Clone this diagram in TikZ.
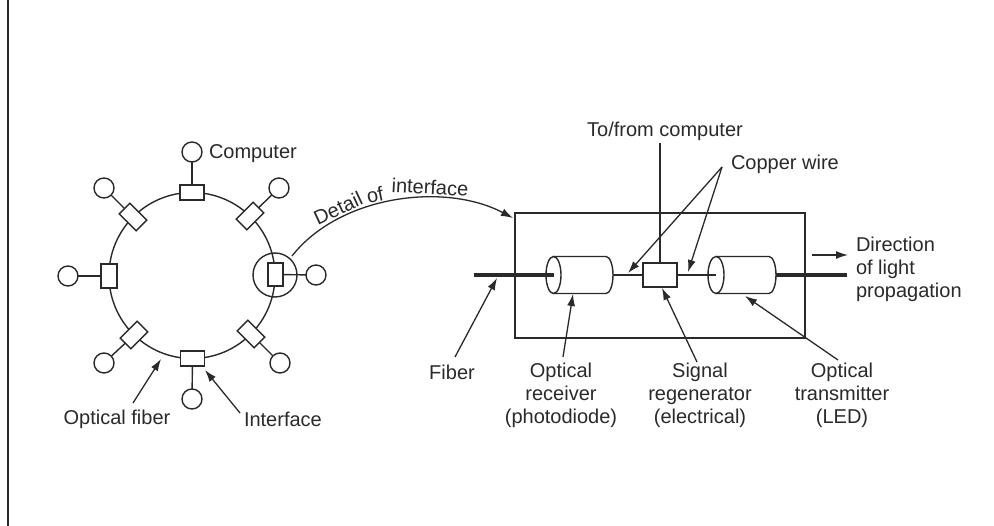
\documentclass[tikz,border=0pt]{standalone}
\usepackage{fontspec}
\setmainfont{Liberation Sans}
\usetikzlibrary{arrows.meta}
\definecolor{ink}{HTML}{2A2A2A}
\tikzset{
  lbl/.style={inner sep=0pt,outer sep=0pt,align=center,text=ink,font=\fontsize{20}{23}\selectfont},
  wirebase/.style={draw=ink,line width=1.4pt},
  ifbox/.style={draw=ink,fill=white,line width=1.4pt,inner sep=0pt,outer sep=0pt,minimum width=24pt,minimum height=15pt},
  comp/.style={circle,draw=ink,fill=white,line width=1.4pt,inner sep=0pt,outer sep=0pt,minimum size=20pt},
  ptr/.style={draw=ink,line width=1.3pt,-{Latex[length=12pt,width=8pt]}},
  thickfib/.style={draw=ink,line width=4pt},
  cu/.style={draw=ink,line width=2pt},
}
\begin{document}
\begin{tikzpicture}[x=1pt,y=-1pt]
\useasboundingbox (0,0) rectangle (994,526);
\fill[white] (0,0) rectangle (994,526);
\draw[ink,line width=2pt] (8,0) -- (8,526);
% ring
\node[circle,draw=ink,line width=1.4pt,minimum size=166pt,inner sep=0pt,outer sep=0pt] (ring) at (192,275.5) {};
% computers
\node[comp] (c1) at (192,152) {};
\node[comp] (c2) at (279,188) {};
\node[comp] (c3) at (316,275) {};
\node[comp] (c4) at (280,363) {};
\node[comp] (c5) at (192,399) {};
\node[comp] (c6) at (104,363) {};
\node[comp] (c7) at (68,276) {};
\node[comp] (c8) at (104,188) {};
% interfaces
\node[ifbox] (i1) at (192,192.5) {};
\node[ifbox,rotate=45] (i2) at (250,216) {};
\node[ifbox,minimum width=15pt,minimum height=23pt] (i3) at (275.5,274.5) {};
\node[ifbox,rotate=-45] (i4) at (251,334) {};
\node[ifbox] (i5) at (192.5,358.5) {};
\node[ifbox,rotate=45] (i6) at (134,335) {};
\node[ifbox,minimum width=16pt,minimum height=24pt] (i7) at (109,276) {};
\node[ifbox,rotate=-45] (i8) at (133,217) {};
\foreach \n in {1,...,8}{\draw[wirebase] (c\n) -- (i\n);}
% detail circle
\node[circle,draw=ink,line width=1.4pt,minimum size=44pt,inner sep=0pt,outer sep=0pt] (zoomc) at (275,275) {};
% ring labels
\node[lbl,anchor=west] (tcomp) at (209,154) {Computer};
\node[lbl] (tfib) at (117,419) {Optical fiber};
\node[lbl,anchor=west] (tif) at (244,419) {Interface};
\coordinate (afib) at (161,359);
\coordinate (sfib) at (133,403);
\coordinate (aif) at (205,370);
\coordinate (sif) at (240,413);
\draw[ptr] (sfib) -- (afib);
\draw[ptr] (sif) -- (aif);
% detail box
\node[draw=ink,line width=1.4pt,minimum width=290pt,minimum height=125pt,inner sep=0pt,outer sep=0pt] (detail) at (660,275.5) {};
% detail curve
\coordinate (dstart) at (292,256);
\coordinate (dend) at (513,218);
\draw[ptr] (dstart) .. controls (340,195) and (445,182) .. (dend);
\node[lbl,rotate=25] (td1) at (338,208) {Detail};
\node[lbl,rotate=12] (td2) at (375,195) {of};
\node[lbl,rotate=-3] (td3) at (430,187) {interface};
% fibre and wires
\coordinate (rxc) at (553.5,275);
\coordinate (rxr) at (613,275);
\coordinate (txc) at (716,275);
\coordinate (txr) at (776,275);
\coordinate (fl) at (474,275);
\coordinate (fr) at (847,275);
\coordinate (topw) at (660,143);
\node[draw=ink,fill=white,line width=1.4pt,minimum width=34pt,minimum height=24pt,inner sep=0pt,outer sep=0pt] (regen) at (660,275) {};
\draw[cu] (topw) -- (regen.north);
\draw[cu] (rxr) -- (regen.west);
% cylinders
\draw[ink,line width=1.4pt,fill=white] (553.5,256.5) -- (606,256.5) arc[start angle=-90,end angle=90,x radius=7,y radius=18.5] -- (553.5,293.5);
\draw[ink,line width=1.4pt,fill=white] (rxc) ellipse[x radius=7.5,y radius=18.5];
\draw[thickfib] (fl) -- (rxc);
\draw[ink,line width=1.4pt,fill=white] (716,256.5) -- (769,256.5) arc[start angle=-90,end angle=90,x radius=7,y radius=18.5] -- (716,293.5);
\draw[ink,line width=1.4pt,fill=white] (txc) ellipse[x radius=8,y radius=18.5];
\draw[cu] (regen.east) -- (txc);
\draw[thickfib] (txr) -- (fr);
% right labels
\coordinate (dirs) at (812,255);
\coordinate (dire) at (848,255);
\draw[ptr] (dirs) -- (dire);
\node[lbl,align=left,anchor=west] (tdir) at (856,269) {Direction\\of light\\propagation};
\node[lbl] (tto) at (665,131) {To/from computer};
\node[lbl,anchor=west] (tcu) at (731,164) {Copper wire};
\coordinate (scu) at (722,167);
\coordinate (acu1) at (628,273);
\coordinate (acu2) at (688,272);
\draw[ptr] (scu) -- (acu1);
\draw[ptr] (scu) -- (acu2);
\node[lbl] (tfb) at (452,372) {Fiber};
\node[lbl] (trx) at (561,395) {Optical\\receiver\\(photodiode)};
\node[lbl] (tsg) at (700,395) {Signal\\regenerator\\(electrical)};
\node[lbl] (ttx) at (842,395) {Optical\\transmitter\\(LED)};
\coordinate (sfb) at (455,357);
\coordinate (afb) at (497,278);
\coordinate (srx) at (563,357);
\coordinate (arx) at (573,294);
\coordinate (ssg) at (697,362);
\coordinate (asg) at (662,288);
\coordinate (stx) at (838,360);
\coordinate (atx) at (745,296);
\draw[ptr] (sfb) -- (afb);
\draw[ptr] (srx) -- (arx);
\draw[ptr] (ssg) -- (asg);
\draw[ptr] (stx) -- (atx);
\end{tikzpicture}
\end{document}
